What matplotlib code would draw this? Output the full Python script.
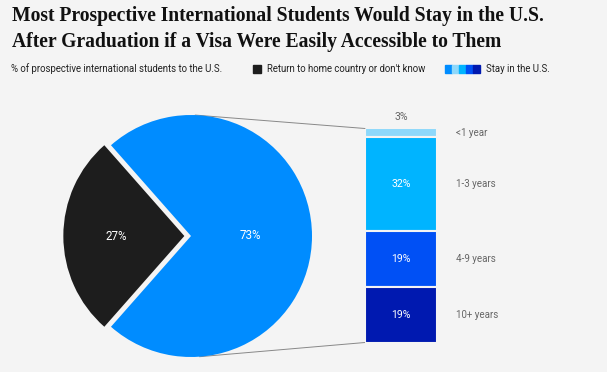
import matplotlib
matplotlib.use("Agg")
import numpy as np
from matplotlib import pyplot as plt
from matplotlib.patches import Rectangle, ConnectionPatch

# data
pie_labels = ["Return to home country or don't know", "Stay in the U.S."]
pie_values = [27, 73]
stay_labels = ["<1 year", "1-3 years", "4-9 years", "10+ years"]
stay_values = [3, 32, 19, 19]

BG = "#f4f4f4"
PIE_COLORS = ["#1d1d1d", "#008cff"]
STAY_COLORS = ["#8dd8fb", "#00b4ff", "#0050f5", "#0019b0"]
GRAY = "#666666"

W, H = 607, 372
plt.rcParams['font.family'] = ['Roboto', 'DejaVu Sans']


def px_box(x0, y0, x1, y1):
    """pixel box (top-left origin) -> figure fraction rect"""
    return [x0 / W, 1 - y1 / H, (x1 - x0) / W, (y1 - y0) / H]


fig = plt.figure(figsize=(W / 100, H / 100), dpi=100, facecolor=BG)

# title + subtitle
fig.text(12 / W, 1 - 21 / H, "Most Prospective International Students Would Stay in the U.S.",
         family="Liberation Serif", weight="bold", fontsize=14.1, color="#111111", va="baseline")
fig.text(12 / W, 1 - 47.5 / H, "After Graduation if a Visa Were Easily Accessible to Them",
         family="Liberation Serif", weight="bold", fontsize=14.1, color="#111111", va="baseline")
fig.text(11 / W, 1 - 69 / H, "% of prospective international students to the U.S.",
         fontsize=6.9, color="#222222", va="center")

# legend
fig.patches.append(Rectangle((253 / W, 1 - 73 / H), 8 / W, 8 / H,
                             transform=fig.transFigure, color=PIE_COLORS[0]))
fig.text(267 / W, 1 - 69 / H, pie_labels[0], fontsize=6.9, color="#222222", va="center")
for i, c in enumerate([PIE_COLORS[1]] + STAY_COLORS):
    fig.patches.append(Rectangle(((445 + 7 * i) / W, 1 - 73 / H), 7 / W, 8 / H,
                                 transform=fig.transFigure, color=c))
fig.text(486 / W, 1 - 69 / H, pie_labels[1], fontsize=6.9, color="#222222", va="center")

# pie
cx, cy, r = 191, 236, 121
half = 130
ax_pie = fig.add_axes(px_box(cx - half, cy - half, cx + half, cy + half))
ax_pie.set_facecolor(BG)
start = 180 - pie_values[0] / sum(pie_values) * 360 / 2
wedges, _ = ax_pie.pie(pie_values, colors=PIE_COLORS, startangle=start,
                       explode=[0.055, 0], radius=1,
                       wedgeprops=dict(linewidth=0))
lim = half / r
ax_pie.set_xlim(-lim, lim)
ax_pie.set_ylim(-lim, lim)
ax_pie.axis("off")

label_r = [0.56, 0.49]
for w, v, lr in zip(wedges, pie_values, label_r):
    ang = np.deg2rad((w.theta1 + w.theta2) / 2)
    cxw, cyw = w.center
    ax_pie.text(cxw + lr * np.cos(ang), cyw + lr * np.sin(ang), f"{v}%",
                ha="center", va="center", color="white", fontsize=8.4)

# stacked bar for "stay" breakdown
ax_bar = fig.add_axes(px_box(365, 128.5, 437, 342.5))
ax_bar.set_facecolor(BG)
total = sum(stay_values)
bottoms = total - np.cumsum(stay_values)
for lab, v, b, c in zip(stay_labels, stay_values, bottoms, STAY_COLORS):
    ax_bar.bar(0, v, bottom=b, width=1, color=c, edgecolor=BG, linewidth=1.5)
    ax_bar.text(0.76, b + v / 2, lab, color=GRAY, fontsize=7.0, va="center",
                ha="left", clip_on=False)
    if v >= 10:
        ax_bar.text(0, b + v / 2, f"{v}%", color="white", fontsize=7.6,
                    ha="center", va="center")
    else:
        ax_bar.annotate(f"{v}%", xy=(0, b + v), xytext=(0, 5), textcoords="offset points",
                        color=GRAY, fontsize=7.6, ha="center", va="bottom")
ax_bar.set_xlim(-0.5, 0.5)
ax_bar.set_ylim(0, total)
ax_bar.axis("off")

# connector lines
for ang, yb in [(88, total), (-86, 0)]:
    a = np.deg2rad(ang)
    con = ConnectionPatch(xyA=(np.cos(a), np.sin(a)), coordsA=ax_pie.transData,
                          xyB=(-0.5, yb), coordsB=ax_bar.transData,
                          color="#888888", linewidth=0.7)
    con.set_zorder(0)
    fig.add_artist(con)

fig.savefig("out.png", dpi=100, facecolor=BG)
